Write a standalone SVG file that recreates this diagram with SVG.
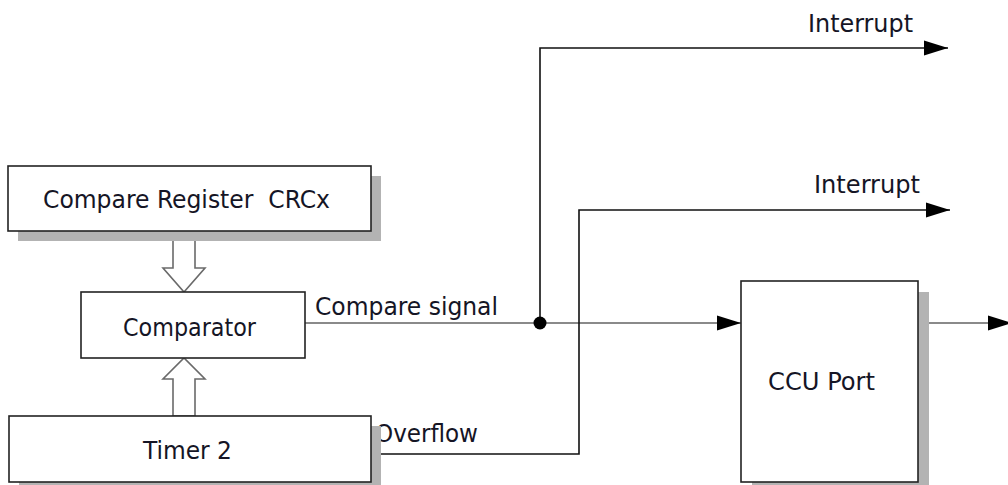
<svg xmlns="http://www.w3.org/2000/svg" width="1008" height="485" viewBox="0 0 1008 485">
<defs>
<style>
.box{fill:#fff;stroke:#222;stroke-width:1.6}
.shadow{fill:#b3b3b3}
.lbl{font-family:"DejaVu Sans Condensed","DejaVu Sans",Verdana,sans-serif;font-stretch:condensed;font-size:25px;fill:#151525}
.wire{fill:none;stroke:#111;stroke-width:1.6}
.gwire{fill:none;stroke:#8a8a8a;stroke-width:2.2}
.hollow{fill:#fff;stroke:#6a6a6a;stroke-width:1.6}
</style>
<marker id="ah" markerUnits="userSpaceOnUse" markerWidth="26" markerHeight="18" viewBox="0 0 26 18" refX="24" refY="9" orient="auto">
<path d="M0,1.5 L24,9 L0,16.5 Z" fill="#000"/>
</marker>
</defs>
<rect width="1008" height="485" fill="#fff"/>

<g id="connectors">
<path class="gwire" d="M305,323 H741" marker-end="url(#ah)"/>
<path class="gwire" d="M918,323 H1012" marker-end="url(#ah)"/>
<path class="wire" d="M540,323 V48 H948" marker-end="url(#ah)"/>
<path class="wire" d="M371,454 H579 V210 H950" marker-end="url(#ah)"/>
<circle cx="540" cy="323" r="6.5" fill="#000"/>
<polygon class="hollow" points="173,231 195,231 195,268 205,268 184,292 163,268 173,268"/>
<polygon class="hollow" points="173,416 195,416 195,379 205,379 184,358 163,379 173,379"/>
<text class="lbl" x="315" y="315" textLength="183" lengthAdjust="spacingAndGlyphs">Compare signal</text>
<text class="lbl" x="375" y="442" textLength="103" lengthAdjust="spacingAndGlyphs">Overflow</text>
<text class="lbl" x="808" y="32" textLength="105" lengthAdjust="spacingAndGlyphs">Interrupt</text>
<text class="lbl" x="814" y="193" textLength="106" lengthAdjust="spacingAndGlyphs">Interrupt</text>
</g>

<g id="crcx">
<rect class="shadow" x="18" y="176" width="363" height="65"/>
<rect class="box" x="8" y="166" width="363" height="65"/>
<text class="lbl" x="43" y="208" textLength="287" lengthAdjust="spacingAndGlyphs" xml:space="preserve">Compare Register  CRCx</text>
</g>

<g id="comparator">
<rect class="box" x="81" y="292" width="224" height="66"/>
<text class="lbl" x="123" y="336" textLength="133" lengthAdjust="spacingAndGlyphs">Comparator</text>
</g>

<g id="timer2">
<rect class="shadow" x="19" y="426" width="362" height="66"/>
<rect class="box" x="9" y="416" width="362" height="66"/>
<text class="lbl" x="143" y="459" textLength="89" lengthAdjust="spacingAndGlyphs">Timer 2</text>
</g>

<g id="ccuport">
<rect class="shadow" x="752" y="292" width="177" height="201"/>
<rect class="box" x="741" y="281" width="177" height="201"/>
<text class="lbl" x="768" y="390" textLength="107" lengthAdjust="spacingAndGlyphs">CCU Port</text>
</g>
</svg>
